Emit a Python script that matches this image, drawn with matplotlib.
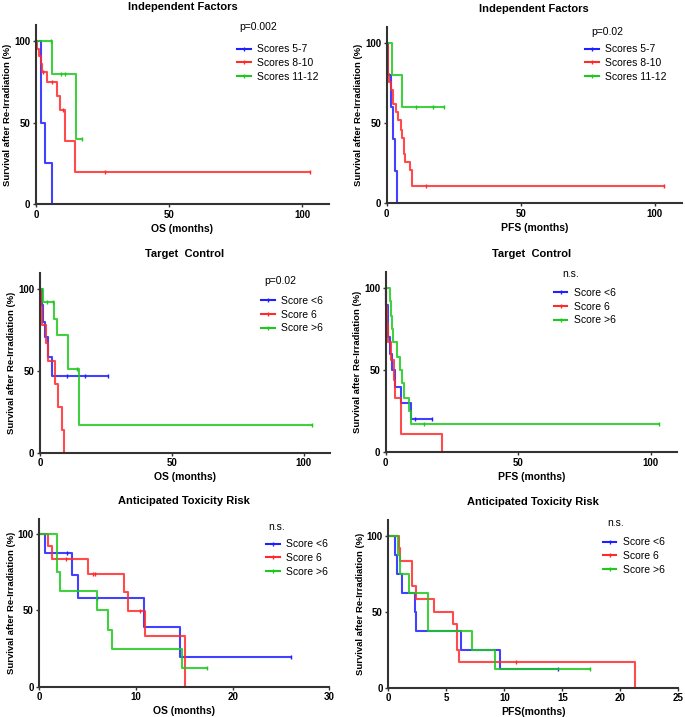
import matplotlib
matplotlib.use('Agg')
import matplotlib.pyplot as plt
from matplotlib.lines import Line2D

plt.rcParams['font.family'] = ['Liberation Sans', 'DejaVu Sans']

# ---- data: event times (months), survival after step (%), censor times
# Independent factors, OS
os_ind_a_t = [2.0, 3.5, 6.1]
os_ind_a_s = [50, 25, 0]
os_ind_a_c = []
os_ind_b_t = [0.5, 1.2, 1.8, 2.2, 4.0, 7.8, 9.0, 10.9, 14.7]
os_ind_b_s = [95.5, 91, 86, 81, 75, 66.5, 58, 39, 19.5]
os_ind_b_c = [2.8, 6.0, 10.3, 26.0, 103.0]
os_ind_c_t = [6.1, 15.0]
os_ind_c_s = [80, 40]
os_ind_c_c = [5.8, 9.4, 10.9, 17.4]

# Independent factors, PFS
pfs_ind_a_t = [0.6, 1.6, 2.4, 3.2, 4.0]
pfs_ind_a_s = [80, 60, 40, 20, 0]
pfs_ind_a_c = []
pfs_ind_b_t = [0.3, 0.6, 1.0, 1.5, 2.2, 3.5, 4.3, 5.3, 5.8, 6.5, 7.0, 8.8, 9.6]
pfs_ind_b_s = [90, 81, 76, 71, 62, 57, 52, 46, 41, 31, 26, 21, 10.5]
pfs_ind_b_c = [14.7, 103.5]
pfs_ind_c_t = [1.8, 5.7]
pfs_ind_c_s = [80, 60]
pfs_ind_c_c = [11.0, 17.1, 21.3]

# Target control, OS
os_tc_a_t = [0.7, 1.3, 1.8, 3.1, 4.5]
os_tc_a_s = [90, 80, 70.5, 58.7, 47]
os_tc_a_c = [10.2, 17.0, 25.8]
os_tc_b_t = [0.3, 0.6, 2.1, 3.0, 5.6, 7.0, 8.4, 9.0]
os_tc_b_s = [89, 78, 67, 56, 42, 28, 14, 0]
os_tc_b_c = []
os_tc_c_t = [1.0, 5.4, 6.6, 10.7, 14.8]
os_tc_c_s = [92.3, 82, 71.7, 51.2, 17]
os_tc_c_c = [2.5, 5.0, 14.0, 103.0]

# Target control, PFS
pfs_tc_a_t = [0.3, 0.8, 1.0, 1.6, 2.5, 3.6, 5.9, 9.4]
pfs_tc_a_s = [90, 80, 70, 60, 50, 40, 30, 20]
pfs_tc_a_c = [11.0, 17.3]
pfs_tc_b_t = [0.2, 0.4, 0.8, 2.0, 3.0, 3.4, 5.7, 21.4]
pfs_tc_b_s = [89, 78, 67, 56, 44, 33, 11, 0]
pfs_tc_b_c = []
pfs_tc_c_t = [1.7, 2.0, 2.3, 2.6, 4.2, 5.4, 6.3, 7.0, 8.9, 9.4]
pfs_tc_c_s = [92, 83, 75, 67, 58, 50, 42, 33, 25, 17]
pfs_tc_c_c = [14.6, 103.3]

# Anticipated toxicity risk, OS
os_tox_a_t = [0.6, 3.4, 4.0, 10.8, 14.6]
os_tox_a_s = [87.5, 73, 58.4, 39, 19.5]
os_tox_a_c = [2.9, 6.0, 26.0]
os_tox_b_t = [0.93, 1.3, 5.0, 8.8, 9.2, 10.9, 15.1]
os_tox_b_s = [92, 83.5, 74, 62, 49.5, 33, 0]
os_tox_b_c = [2.8, 5.6, 5.8, 10.4]
os_tox_c_t = [1.8, 2.1, 6.0, 7.1, 7.5, 14.8]
os_tox_c_s = [75, 62.5, 50, 37.5, 25, 12.5]
os_tox_c_c = [17.3]

# Anticipated toxicity risk, PFS
pfs_tox_a_t = [0.57, 0.72, 1.15, 2.3, 2.35, 6.26, 9.6]
pfs_tox_a_s = [87.5, 75, 62.5, 50, 37.5, 25, 12.5]
pfs_tox_a_c = [14.6]
pfs_tox_b_t = [0.9, 1.0, 2.0, 2.35, 3.97, 5.6, 5.9, 6.1, 21.3]
pfs_tox_b_s = [91.7, 83.3, 66.7, 58.3, 50, 41.7, 25, 16.7, 0]
pfs_tox_b_c = [11.0]
pfs_tox_c_t = [0.86, 1.0, 1.8, 3.4, 3.45, 7.2, 9.2]
pfs_tox_c_s = [87.5, 75, 62.5, 50, 37.5, 25, 12.5]
pfs_tox_c_c = [17.4]

labels_ind = ['Scores 5-7', 'Scores 8-10', 'Scores 11-12']
labels_score = ['Score <6', 'Score 6', 'Score >6']
colors = ['#1f1fff', '#ff2b2b', '#1ec81e']


def km_xy(t, s, c):
    x = [0] + list(t)
    y = [100] + list(s)
    end = max([x[-1]] + list(c))
    x.append(end)
    y.append(y[-1])
    return x, y


def surv_at(t, s, tc):
    v = 100
    for ti, si in zip(t, s):
        if ti <= tc:
            v = si
    return v


# panel setup: box, title, xlabel, xlim, xticks, stat text, stat pos, legend pos, groups
panels = [
    ([36 / 685, 0.7155, 0.4277, 0.2497], 'Independent Factors', 'OS (months)', 110, [0, 50, 100],
     'p=0.002', (0.693, 0.989), (0.686, 0.788), labels_ind,
     [(os_ind_a_t, os_ind_a_s, os_ind_a_c), (os_ind_b_t, os_ind_b_s, os_ind_b_c), (os_ind_c_t, os_ind_c_s, os_ind_c_c)]),
    ([386.7 / 685, 0.7165, 0.4307, 0.2455], 'Independent Factors', 'PFS (months)', 110, [0, 50, 100],
     'p=0.02', (0.693, 0.973), (0.672, 0.797), labels_ind,
     [(pfs_ind_a_t, pfs_ind_a_s, pfs_ind_a_c), (pfs_ind_b_t, pfs_ind_b_s, pfs_ind_b_c), (pfs_ind_c_t, pfs_ind_c_s, pfs_ind_c_c)]),
    ([40 / 685, 0.3686, 0.4234, 0.251], 'Target  Control', 'OS (months)', 110, [0, 50, 100],
     'p=0.02', (0.772, 0.956), (0.762, 0.767), labels_score,
     [(os_tc_a_t, os_tc_a_s, os_tc_a_c), (os_tc_b_t, os_tc_b_s, os_tc_b_c), (os_tc_c_t, os_tc_c_s, os_tc_c_c)]),
    ([385.7 / 685, 0.3692, 0.4255, 0.2516], 'Target  Control', 'PFS (months)', 110, [0, 50, 100],
     'n.s.', (0.605, 0.988), (0.577, 0.807), labels_score,
     [(pfs_tc_a_t, pfs_tc_a_s, pfs_tc_a_c), (pfs_tc_b_t, pfs_tc_b_s, pfs_tc_b_c), (pfs_tc_c_t, pfs_tc_c_s, pfs_tc_c_c)]),
    ([39.3 / 685, 0.0423, 0.4234, 0.2338], 'Anticipated Toxicity Risk', 'OS (months)', 30, [0, 10, 20, 30],
     'n.s.', (0.789, 0.955), (0.782, 0.768), labels_score,
     [(os_tox_a_t, os_tox_a_s, os_tox_a_c), (os_tox_b_t, os_tox_b_s, os_tox_b_c), (os_tox_c_t, os_tox_c_s, os_tox_c_c)]),
    ([388.3 / 685, 0.0409, 0.4234, 0.2332], 'Anticipated Toxicity Risk', 'PFS(months)', 25, [0, 5, 10, 15, 20, 25],
     'n.s.', (0.754, 0.985), (0.740, 0.788), labels_score,
     [(pfs_tox_a_t, pfs_tox_a_s, pfs_tox_a_c), (pfs_tox_b_t, pfs_tox_b_s, pfs_tox_b_c), (pfs_tox_c_t, pfs_tox_c_s, pfs_tox_c_c)]),
]

fig = plt.figure(figsize=(6.85, 7.17), dpi=100)

for box, title, xlab, xmax, xt, stat, statpos, legpos, labels, groups in panels:
    ax = fig.add_axes(box)
    for (t, s, c), col in zip(groups, colors):
        x, y = km_xy(t, s, c)
        ax.step(x, y, where='post', color=col, lw=1.5, alpha=0.85, clip_on=False)
        if c:
            cy = [surv_at(t, s, tc) for tc in c]
            ax.plot(c, cy, '|', color=col, ms=3.5, mew=1.0, clip_on=False)
    ax.set_xlim(0, xmax)
    ax.set_ylim(0, 110)
    ax.set_xticks(xt)
    ax.set_yticks([0, 50, 100])
    for sp in ['top', 'right']:
        ax.spines[sp].set_visible(False)
    for sp in ['left', 'bottom']:
        ax.spines[sp].set_linewidth(1.5)
        ax.spines[sp].set_color('#333333')
    ax.tick_params(direction='out', length=2.5, width=1.0, color='#333333', labelsize=7, pad=1.5)
    for lab in ax.get_xticklabels() + ax.get_yticklabels():
        lab.set_fontweight('bold')
    ax.set_title(title, fontsize=8, fontweight='bold', pad=11)
    ax.set_xlabel(xlab, fontsize=7.5, fontweight='bold', labelpad=3)
    ax.set_ylabel('Survival after Re-Irradiation (%)', fontsize=6.8, fontweight='bold')
    ax.yaxis.set_label_coords(-0.082, 0.5)
    ax.text(statpos[0], statpos[1], stat, transform=ax.transAxes, fontsize=7.5, va='center', ha='left')
    handles = [Line2D([0], [0], color=col, lw=1.5, marker='|', ms=3, mew=1.0) for col in colors]
    ax.legend(handles, labels, loc='center left', bbox_to_anchor=legpos, frameon=False, fontsize=7.5,
              borderpad=0, borderaxespad=0, handlelength=1.3, handletextpad=0.65, labelspacing=0.35,
              numpoints=1)

fig.savefig('out.png', dpi=100)
